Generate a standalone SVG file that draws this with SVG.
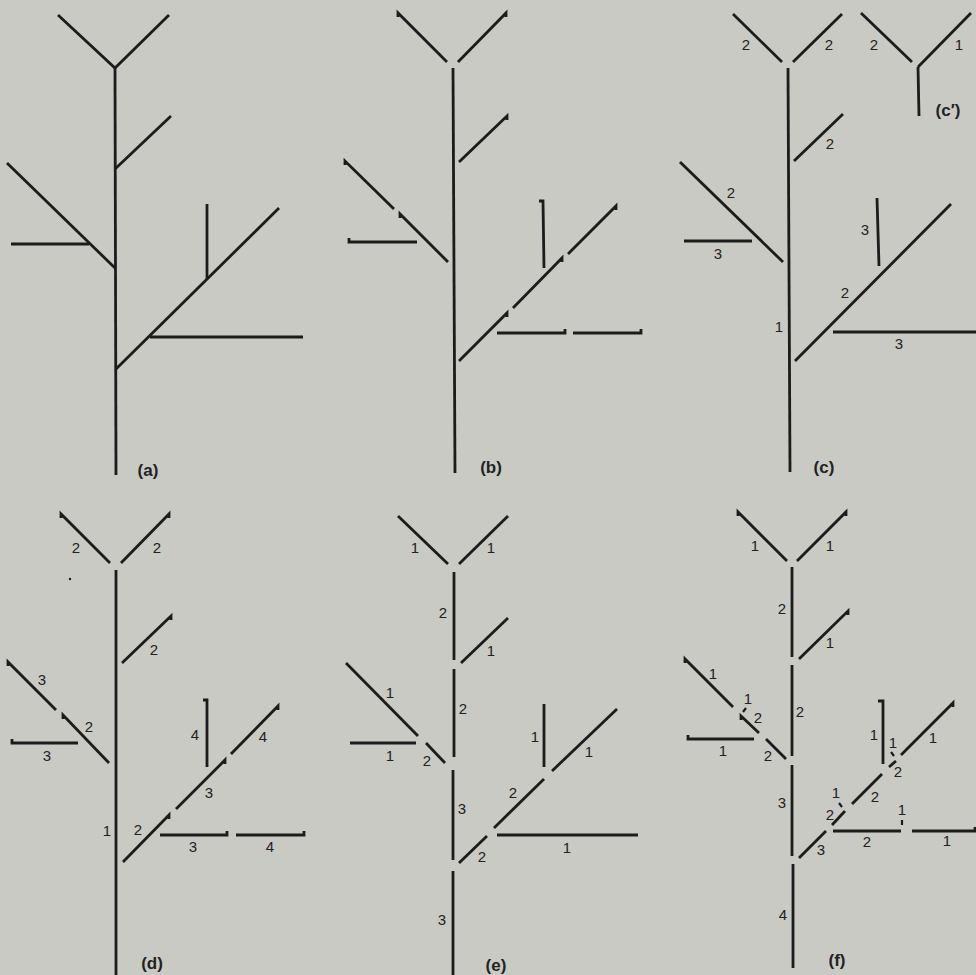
<svg xmlns="http://www.w3.org/2000/svg" width="976" height="975" viewBox="0 0 976 975">
<style>
.s{stroke:#1c1c1c;stroke-width:2.8;fill:none;stroke-linecap:butt;stroke-linejoin:miter}
.m{stroke:#1c1c1c;stroke-width:2.2;fill:none}
.n{font-family:"Liberation Sans",Arial,sans-serif;font-size:15px;fill:#222;text-anchor:middle}
.p{font-family:"Liberation Sans",Arial,sans-serif;font-size:17px;font-weight:bold;fill:#222;text-anchor:middle}
</style>
<rect width="976" height="975" fill="#c9cac4"/>

<g id="panel-a" class="s">
<line x1="115" y1="68" x2="116" y2="475"/>
<path d="M58,15 L115,68 L169,15"/>
<line x1="115" y1="169" x2="171" y2="116"/>
<line x1="7" y1="163" x2="115" y2="268"/>
<line x1="11" y1="244" x2="89" y2="244"/>
<line x1="116" y1="369" x2="279" y2="208"/>
<line x1="207" y1="204" x2="207" y2="279"/>
<line x1="150" y1="337" x2="303" y2="337"/>
</g>
<text class="p" x="148" y="476">(a)</text>

<g id="panel-b" class="s">
<line x1="453" y1="68" x2="455" y2="473"/>
<path d="M398,17 L398,13 L447,62"/>
<path d="M506,17 L506,13 L458,62"/>
<path d="M507,120 L507,116 L459,162"/>
<path d="M345,165 L345,161 L394,209"/>
<path d="M400,218 L400,214 L448,262"/>
<path d="M349,238 L349,242 L417,242"/>
<path d="M539,201 L543,201 L544,268"/>
<path d="M507,317 L507,313 L459,361"/>
<path d="M562,262 L562,258 L513,308"/>
<path d="M616,210 L616,206 L568,254"/>
<path d="M497,333 L565,333 L565,329"/>
<path d="M573,333 L641,333 L641,329"/>
</g>
<text class="p" x="491" y="473">(b)</text>

<g id="panel-c">
<g class="s">
<line x1="788" y1="68" x2="790" y2="472"/>
<line x1="733" y1="14" x2="782" y2="62"/>
<line x1="842" y1="14" x2="793" y2="62"/>
<line x1="794" y1="161" x2="843" y2="114"/>
<line x1="680" y1="162" x2="783" y2="262"/>
<line x1="684" y1="241" x2="752" y2="241"/>
<line x1="795" y1="361" x2="951" y2="204"/>
<line x1="877" y1="198" x2="879" y2="266"/>
<line x1="833" y1="332" x2="976" y2="332"/>
</g>
<g class="n">
<text x="746" y="50">2</text><text x="829" y="50">2</text>
<text x="830" y="149">2</text><text x="731" y="198">2</text>
<text x="718" y="259">3</text><text x="845" y="298">2</text>
<text x="865" y="235">3</text><text x="899" y="349">3</text>
<text x="779" y="332">1</text>
</g>
<text class="p" x="824" y="473">(c)</text>
</g>

<g id="panel-c-prime">
<g class="s">
<line x1="861" y1="13" x2="912" y2="62"/>
<line x1="971" y1="13" x2="918" y2="67"/>
<line x1="918" y1="67" x2="919" y2="116"/>
</g>
<g class="n"><text x="874" y="50">2</text><text x="959" y="50">1</text></g>
<text class="p" x="948" y="116">(c′)</text>
</g>

<g id="panel-d">
<g class="s">
<line x1="116" y1="570" x2="116" y2="975"/>
<path d="M61,518 L61,514 L110,563"/>
<path d="M169,518 L169,514 L121,563"/>
<path d="M171,620 L171,616 L122,663"/>
<path d="M8,666 L8,662 L56,710"/>
<path d="M63,719 L63,715 L109,763"/>
<path d="M12,739 L12,743 L78,743"/>
<path d="M169,819 L169,815 L123,862"/>
<path d="M225,764 L225,760 L176,809"/>
<path d="M278,710 L278,706 L231,754"/>
<path d="M203,700 L207,700 L207,767"/>
<path d="M160,835 L227,835 L227,831"/>
<path d="M236,835 L304,835 L304,831"/>
</g>
<circle cx="70" cy="579" r="1.2" fill="#1c1c1c"/>
<g class="n">
<text x="76" y="553">2</text><text x="157" y="553">2</text>
<text x="154" y="655">2</text><text x="42" y="685">3</text>
<text x="89" y="732">2</text><text x="47" y="761">3</text>
<text x="195" y="740">4</text><text x="263" y="742">4</text>
<text x="209" y="798">3</text><text x="107" y="836">1</text>
<text x="138" y="835">2</text><text x="193" y="852">3</text>
<text x="270" y="852">4</text>
</g>
<text class="p" x="152" y="969">(d)</text>
</g>

<g id="panel-e">
<g class="s">
<line x1="398" y1="516" x2="448" y2="564"/>
<line x1="508" y1="516" x2="459" y2="564"/>
<line x1="454" y1="572" x2="454" y2="660"/>
<line x1="461" y1="663" x2="508" y2="618"/>
<line x1="454" y1="669" x2="454" y2="757"/>
<line x1="346" y1="663" x2="418" y2="736"/>
<line x1="426" y1="743" x2="445" y2="763"/>
<line x1="350" y1="743" x2="416" y2="743"/>
<line x1="453" y1="770" x2="453" y2="860"/>
<line x1="459" y1="863" x2="487" y2="836"/>
<line x1="494" y1="828" x2="544" y2="779"/>
<line x1="552" y1="771" x2="617" y2="709"/>
<line x1="544" y1="704" x2="544" y2="767"/>
<line x1="497" y1="835" x2="638" y2="835"/>
<line x1="453" y1="871" x2="453" y2="975"/>
</g>
<g class="n">
<text x="415" y="553">1</text><text x="491" y="553">1</text>
<text x="443" y="618">2</text><text x="491" y="656">1</text>
<text x="463" y="714">2</text><text x="390" y="698">1</text>
<text x="390" y="761">1</text><text x="427" y="766">2</text>
<text x="462" y="814">3</text><text x="535" y="742">1</text>
<text x="589" y="757">1</text><text x="513" y="798">2</text>
<text x="482" y="862">2</text><text x="567" y="853">1</text>
<text x="442" y="925">3</text>
</g>
<text class="p" x="496" y="971">(e)</text>
</g>

<g id="panel-f">
<g class="s">
<path d="M738,516 L738,512 L787,561"/>
<path d="M846,516 L846,512 L797,561"/>
<line x1="792" y1="567" x2="792" y2="657"/>
<path d="M848,615 L848,611 L799,659"/>
<line x1="792" y1="665" x2="792" y2="756"/>
<line x1="792" y1="765" x2="792" y2="856"/>
<line x1="793" y1="864" x2="793" y2="968"/>
<path d="M685,663 L685,659 L733,707"/>
<path d="M741,720 L741,716 L759,733"/>
<line x1="766" y1="739" x2="786" y2="759"/>
<path d="M688,735 L688,739 L754,739"/>
<path d="M878,701 L883,701 L883,764"/>
<path d="M953,707 L953,703 L901,755"/>
<line x1="889" y1="767" x2="896" y2="761"/>
<line x1="852" y1="804" x2="882" y2="774"/>
<line x1="832" y1="825" x2="845" y2="811"/>
<line x1="799" y1="858" x2="826" y2="831"/>
<line x1="833" y1="831" x2="901" y2="831"/>
<path d="M912,831 L975,831 L975,827"/>
</g>
<g class="m">
<line x1="743" y1="712" x2="746" y2="708"/>
<line x1="891" y1="752" x2="894" y2="756"/>
<line x1="839" y1="803" x2="842" y2="807"/>
<line x1="902" y1="820" x2="902" y2="825"/>
</g>
<g class="n">
<text x="755" y="551">1</text><text x="830" y="551">1</text>
<text x="782" y="614">2</text><text x="830" y="648">1</text>
<text x="800" y="717">2</text><text x="713" y="679">1</text>
<text x="748" y="704">1</text><text x="758" y="723">2</text>
<text x="723" y="756">1</text><text x="768" y="761">2</text>
<text x="782" y="808">3</text><text x="874" y="740">1</text>
<text x="893" y="748">1</text><text x="933" y="743">1</text>
<text x="898" y="777">2</text><text x="875" y="802">2</text>
<text x="836" y="798">1</text><text x="830" y="820">2</text>
<text x="821" y="855">3</text><text x="867" y="847">2</text>
<text x="902" y="815">1</text><text x="947" y="846">1</text>
<text x="783" y="920">4</text>
</g>
<text class="p" x="837" y="966">(f)</text>
</g>
</svg>
